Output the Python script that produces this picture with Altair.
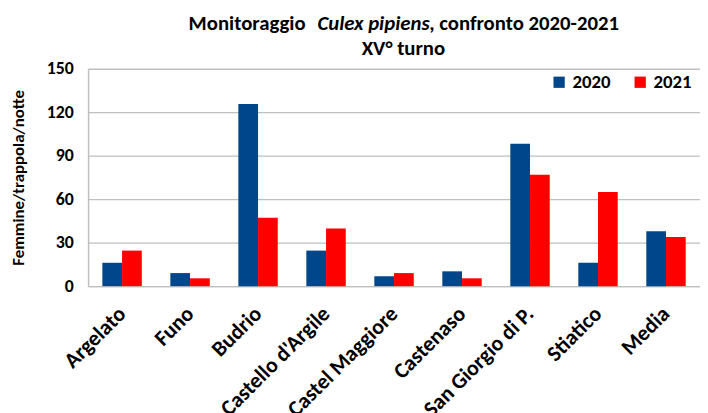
import altair as alt
import pandas as pd

sites = ["Argelato", "Funo", "Budrio", "Castello d'Argile", "Castel Maggiore",
         "Castenaso", "San Giorgio di P.", "Stiatico", "Media"]
v2020 = [16.1, 9.0, 125.6, 24.5, 6.8, 10.2, 98.2, 16.1, 37.8]
v2021 = [24.5, 5.4, 47.1, 39.8, 9.0, 5.4, 76.9, 64.9, 33.9]
years = ["2020", "2021"]
colors = ["#00468B", "#FF0000"]
y_ticks = [0, 30, 60, 90, 120, 150]
title_a = "Monitoraggio"
title_b = "Culex pipiens"
title_c = ", confronto 2020-2021"
title_2 = "XV° turno"
y_title = "Femmine/trappola/notte"

FONT = "Carlito, Lato, sans-serif"

rows = []
for s, a, b in zip(sites, v2020, v2021):
    rows.append({"site": s, "year": years[0], "value": a})
    rows.append({"site": s, "year": years[1], "value": b})
df = pd.DataFrame(rows)

bars = alt.Chart(df).mark_bar().encode(
    x=alt.X("site:N", sort=sites, title=None,
            scale=alt.Scale(paddingInner=0.42, paddingOuter=0.21),
            axis=alt.Axis(labelAngle=-45, labelAlign="right", labelBaseline="middle",
                          labelFontSize=22, labelFontWeight="bold", labelFont=FONT,
                          labelColor="#000000", labelPadding=24, ticks=False,
                          domainColor="#BFBFBF", domainWidth=1.5, grid=False,
                          labelLimit=300)),
    xOffset=alt.XOffset("year:N", sort=years),
    y=alt.Y("value:Q", title=y_title,
            scale=alt.Scale(domain=[0, 150], nice=False),
            axis=alt.Axis(values=y_ticks, labelFontSize=18, labelFontWeight="bold",
                          labelFont=FONT, labelColor="#000000", labelPadding=15,
                          ticks=False, domainColor="#BFBFBF", domainWidth=1.5,
                          gridColor="#BFBFBF", gridWidth=1.5,
                          titleFont=FONT, titleFontSize=17, titleFontWeight="bold",
                          titleColor="#000000", titleAngle=-90, titleX=-70, titleY=110,
                          titleAlign="center", titleBaseline="middle")),
    color=alt.Color("year:N", sort=years,
                    scale=alt.Scale(domain=years, range=colors),
                    legend=alt.Legend(title=None, orient="none", legendX=467, legendY=4,
                                      direction="horizontal", symbolType="square",
                                      symbolSize=130, symbolStrokeWidth=0,
                                      labelFontSize=19, labelFontWeight="bold",
                                      labelFont=FONT, labelColor="#000000",
                                      labelOffset=4, columnPadding=20, padding=0)),
)

def txt(s, x, y, align, style="normal"):
    return alt.Chart(pd.DataFrame({"t": [s]})).mark_text(
        font=FONT, fontSize=21, fontWeight="bold", fontStyle=style,
        align=align, baseline="middle", color="#000000"
    ).encode(text="t:N", x=alt.value(x), y=alt.value(y))

chart = alt.layer(
    bars,
    txt(title_a, 220, -45, "right"),
    txt(title_b, 232, -45, "left", "italic"),
    txt(title_c, 345, -45, "left"),
    txt(title_2, 319, -20, "center"),
).properties(
    width=619, height=220,
    autosize=alt.AutoSizeParams(type="none"),
    padding={"left": 81, "top": 59, "right": 0, "bottom": 126},
).configure_view(strokeWidth=0)

chart.save("out.html", embed_options={"renderer": "svg", "actions": False})
